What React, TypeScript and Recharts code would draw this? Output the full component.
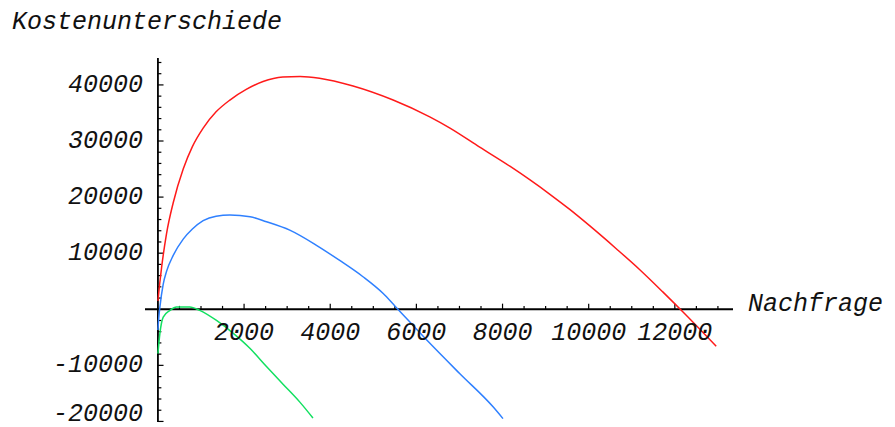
import { LineChart, Line, XAxis, YAxis, ReferenceLine, ReferenceDot } from "recharts";

// Nachfrage (x) vs. Kostenunterschiede (y) for three cost scenarios
const redX = [0, 40, 86, 200, 355, 587, 800, 1050, 1350, 1670, 2050, 2440, 2900, 3300, 3750, 4530, 5460, 6310, 6780, 7470, 8170, 8630, 9100, 9560, 10020, 10640, 11180, 11720, 12190, 12960];
const redY = [1500, 4500, 7500, 13500, 19000, 25000, 29000, 32300, 35200, 37300, 39200, 40600, 41400, 41500, 41200, 39800, 37300, 34300, 32300, 28900, 25500, 23100, 20500, 17800, 14900, 10800, 7100, 3100, -500, -6600];

const blueX = [0, 20, 46, 123, 202, 355, 587, 800, 1050, 1350, 1670, 2140, 2520, 3060, 3680, 4220, 4760, 5230, 5500, 6230, 7010, 7780, 8010];
const blueY = [-3700, -1500, 400, 4500, 6800, 9600, 12500, 14300, 15800, 16600, 16800, 16500, 15600, 14100, 11400, 8700, 5800, 2800, 600, -5400, -11500, -17400, -19500];

const greenX = [0, 46, 123, 280, 430, 740, 970, 1360, 1750, 2140, 2520, 2910, 3300, 3600];
const greenY = [-7900, -4300, -1400, -200, 400, 400, -200, -2000, -4300, -7000, -10200, -13400, -16600, -19400];

const xLabels = [2000, 4000, 6000, 8000, 10000, 12000];
const yLabels = [-20000, -10000, 10000, 20000, 30000, 40000];
const xMinor = Array.from({ length: 26 }, (_, i) => (i + 1) * 500);
const yMinor = Array.from({ length: 33 }, (_, i) => -20000 + i * 2000).filter((v) => v !== 0);

const X_DOMAIN: [number, number] = [-300, 13350];
const Y_DOMAIN: [number, number] = [-20100, 44800];

const toPoints = (xs: number[], ys: number[]) => xs.map((x, i) => ({ x, y: ys[i] }));

const FONT = "'Liberation Mono', 'Courier New', monospace";
const textStyle = { fontFamily: FONT, fontStyle: "italic" as const, fontSize: 25, fill: "#111" };

export default function App() {
  return (
    <div style={{ position: "absolute", left: 0, top: 0, width: 895, height: 427, background: "#fff" }}>
      <div style={{ position: "absolute", left: 12, top: 8, fontFamily: FONT, fontStyle: "italic", fontSize: 25, color: "#111", whiteSpace: "nowrap" }}>
        Kostenunterschiede
      </div>
      <div style={{ position: "absolute", left: 748, top: 290, fontFamily: FONT, fontStyle: "italic", fontSize: 25, color: "#111", whiteSpace: "nowrap" }}>
        Nachfrage
      </div>
      <LineChart width={895} height={427} margin={{ top: 58, right: 162, bottom: 5, left: 145 }}>
        <XAxis type="number" dataKey="x" domain={X_DOMAIN} allowDataOverflow hide />
        <YAxis type="number" dataKey="y" domain={Y_DOMAIN} allowDataOverflow hide />

        {/* axes through the origin */}
        <ReferenceLine y={0} stroke="#000" strokeWidth={1.8} />
        <ReferenceLine x={0} stroke="#000" strokeWidth={1.8} />

        {xMinor.map((v) => (
          <ReferenceLine
            key={`xt${v}`}
            segment={[{ x: v, y: 0 }, { x: v, y: v % 2000 === 0 ? 1000 : 600 }]}
            stroke="#000"
            strokeWidth={1.2}
          />
        ))}
        {yMinor.map((v) => (
          <ReferenceLine
            key={`yt${v}`}
            segment={[{ x: 0, y: v }, { x: v % 10000 === 0 ? 130 : 80, y: v }]}
            stroke="#000"
            strokeWidth={1.2}
          />
        ))}

        {xLabels.map((v) => (
          <ReferenceDot
            key={`xl${v}`}
            x={v}
            y={0}
            r={0.01}
            fill="none"
            stroke="none"
            label={{
              content: ({ viewBox }: any) => (
                <text x={viewBox.x} y={viewBox.y + 31} textAnchor="middle" {...textStyle}>
                  {v}
                </text>
              ),
            }}
          />
        ))}
        {yLabels.map((v) => (
          <ReferenceDot
            key={`yl${v}`}
            x={0}
            y={v}
            r={0.01}
            fill="none"
            stroke="none"
            label={{
              // keep the lowest label inside the bottom edge
              content: ({ viewBox }: any) => (
                <text x={viewBox.x - 15} y={Math.min(viewBox.y + 7, 421)} textAnchor="end" {...textStyle}>
                  {v}
                </text>
              ),
            }}
          />
        ))}

        <Line data={toPoints(redX, redY)} dataKey="y" type="monotone" stroke="#ff1a1a" strokeWidth={1.5} dot={false} isAnimationActive={false} />
        <Line data={toPoints(blueX, blueY)} dataKey="y" type="monotone" stroke="#2f80ff" strokeWidth={1.5} dot={false} isAnimationActive={false} />
        <Line data={toPoints(greenX, greenY)} dataKey="y" type="monotone" stroke="#12e060" strokeWidth={1.5} dot={false} isAnimationActive={false} />
      </LineChart>
    </div>
  );
}
